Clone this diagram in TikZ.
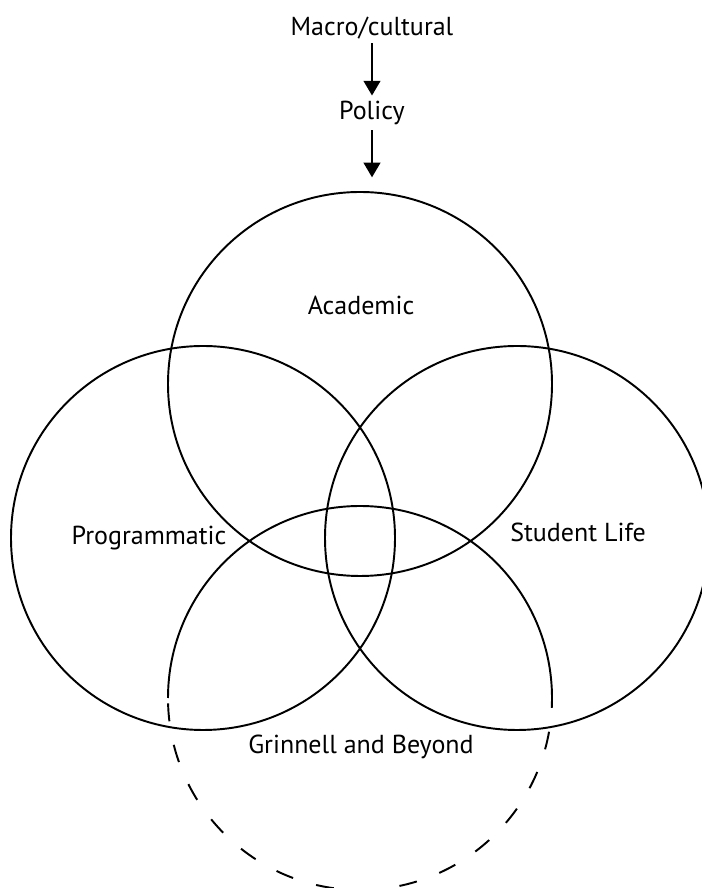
\documentclass[tikz,border=0pt]{standalone}
\usepackage{fontspec}
\setmainfont{PT Sans}
\usetikzlibrary{positioning, arrows.meta}

\begin{document}
\begin{tikzpicture}[
                    % GLOBAL CFG
                    x=0.75pt, y=0.75pt,
                    font=\fontsize{19.5}{23}\selectfont,
                    >={Triangle[width=12.5pt, length=11pt]},
                    % Styles
                    ring/.style={% For the big circles
                            circle,
                            draw,
                            line width=1.45pt,
                            minimum size=288pt,
                            inner sep=0pt,
                            outer sep=0pt,
                        },
                    mylabel/.style={% For the texts
                            inner sep=2pt,
                        },
                    ArrowD/.style={% Arrows going down
                            ->,
                            line width=1.6pt,
                        },
                    halfline/.style={% Upper half of the last circle
                            line width=1.45pt,
                        },
                    halfdash/.style={% Lower half of the last circle
                            line width=1.45pt,
                            dash pattern=on 13.5pt off 18pt,
                            dash phase=-4pt,
                        },
                ]

                \useasboundingbox (0,0) rectangle (701,888);

                % Draw the top labels
                \node [mylabel] (macro) at (372,860) {Macro/cultural};
                \node [mylabel] (policy) at (372,775) {Policy};

                % Draw the circles
                \node [ring] (acad) at (360,504) {};
                \node [ring] (prog) at (203,350) {};
                \node [ring] (stud) at (517,350) {};
                \node [ring, draw=none] (grin) at (360,190) {};

                \draw [halfline] (grin.east) arc[start angle=0, end angle=180, radius=192];
                \draw [halfdash] (grin.west) arc[start angle=180, end angle=360, radius=192];

                % Labels of the circles
                \node [mylabel] (acadtxt) at (361,583) {Academic};
                \node [mylabel] (progtxt) at (149,350) {Programmatic};
                \node [mylabel] (studtxt) at (578,356) {Student Life};
                \node [mylabel] (grintxt) at (361,141) {Grinnell and Beyond};

                % Arrows
                \draw [ArrowD, shorten <=1pt, shorten >=2pt] (macro) -- (policy);
                \draw [ArrowD, shorten <=2pt, shorten >=11pt] (policy) -- (acad.north -| policy);

            \end{tikzpicture}
\end{document}
